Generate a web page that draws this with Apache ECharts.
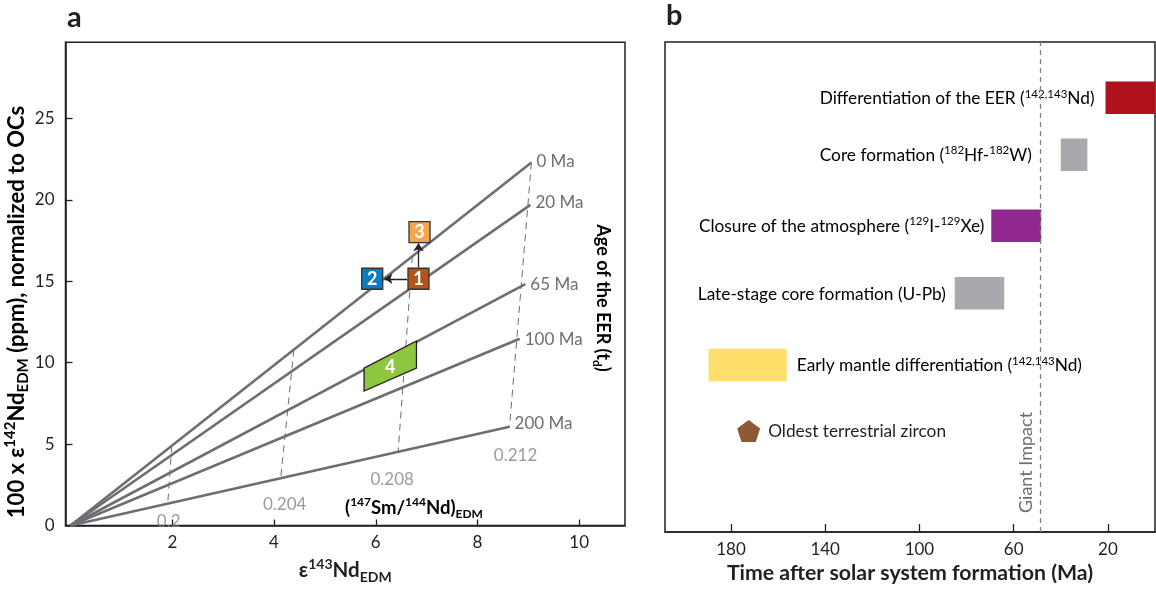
<!DOCTYPE html>
<html><head><meta charset="utf-8">
<script src="https://cdn.jsdelivr.net/npm/echarts@6/dist/echarts.min.js"></script>
<style>html,body{margin:0;padding:0;background:#fff}#c{width:1156px;height:589px}</style>
</head><body><div id="c"></div>
<script>
// ---------- Panel a data ----------
const ageLabels = ['0 Ma', '20 Ma', '65 Ma', '100 Ma', '200 Ma'];
const ageEndX = [9.06, 9.04, 8.94, 8.83, 8.63];
const ageEndY = [22.29, 19.69, 14.82, 11.47, 6.06];
const ratioLabels = ['0.2', '0.204', '0.208', '0.212'];
const ratioTopX = [1.99, 4.39, 6.72, 9.06];
const ratioTopY = [4.90, 10.80, 16.55, 22.29];
const ratioBotX = [1.91, 4.13, 6.44, 8.63];
const ratioBotY = [1.34, 2.90, 4.52, 6.06];
const boxLabels = ['1', '2', '3'];
const boxX = [6.84, 5.93, 6.86];
const boxY = [15.15, 15.15, 18.02];
const arrowFrom = [[6.62, 15.15], [6.84, 15.85]];
const arrowTo = [[6.17, 15.15], [6.84, 17.33]];
const field4X = [5.77, 6.80, 6.80, 5.77];
const field4Y = [9.66, 11.33, 9.66, 8.26];
const xTicksA = [2, 4, 6, 8, 10];
const yTicksA = [0, 5, 10, 15, 20, 25];
// ---------- Panel b data ----------
const eventNames = [
  '{n|Differentiation of the EER (}{s|142,143}{n|Nd)}',
  '{n|Core formation (}{s|182}{n|Hf-}{s|182}{n|W)}',
  '{n|Closure of the atmosphere (}{s|129}{n|I-}{s|129}{n|Xe)}',
  '{n|Late-stage core formation (U-Pb)}',
  '{n|Early mantle differentiation (}{s|142,143}{n|Nd)}'
];
const eventFrom = [21, 40, 69.5, 85, 189.5];
const eventTo = [0, 28.7, 48.3, 64, 156.3];
const zirconAge = 172.5;
const giantImpact = 48.7;
const xTicksB = [180, 140, 100, 60, 20];

// ---------- styles / layout ----------
const FONT = 'Lato';
const DARK = '#231f20';
const LINE = '#6d6e71';
const LGRAY = '#808285';
const rowPos = [8.86, 7.70, 6.25, 4.87, 3.41, 2.06];   // vertical slots of panel b rows
const eventColors = ['#b0121b', '#a7a9ac', '#92278f', '#a7a9ac', '#ffde6a'];
const labelSide = ['left', 'left', 'left', 'left', 'right'];
const labelGap = [11, 29, 7, 9, 10];
const boxColors = ['#b4541a', '#0a7cc2', '#f6a54a'];
const ratioOffsets = [[1, 18], [4, 26], [-6, 28], [6, 29]];
const ageOffsets = [[0, -1], [0, -2], [0, 0], [0, 1], [0, -3]];

const richA = {
  n: {fontFamily: FONT, fontSize: 17.3, color: DARK, lineHeight: 22},
  s: {fontFamily: FONT, fontSize: 11.5, color: DARK, lineHeight: 12, verticalAlign: 'top'}
};
function boldRich(size, color) {
  return {
    b: {fontFamily: FONT, fontWeight: 'bold', fontSize: size, color: color, lineHeight: size + 6},
    s: {fontFamily: FONT, fontWeight: 'bold', fontSize: Math.round(size * 0.66), color: color, lineHeight: 12, verticalAlign: 'top'},
    d: {fontFamily: FONT, fontWeight: 'bold', fontSize: Math.round(size * 0.66), color: color, lineHeight: 12, verticalAlign: 'bottom'}
  };
}

const series = [];
// isochrons
ageLabels.forEach((lab, i) => {
  series.push({
    type: 'line', xAxisIndex: 0, yAxisIndex: 0, name: lab,
    data: [[0, 0], [ageEndX[i], ageEndY[i]]],
    symbol: 'none', lineStyle: {color: LINE, width: 2.6}, z: 3, silent: true,
    endLabel: {show: true, formatter: lab, color: LINE, fontFamily: FONT, fontSize: 17,
      distance: 5, offset: ageOffsets[i]}
  });
});
// Sm/Nd dashed lines
ratioLabels.forEach((lab, i) => {
  series.push({
    type: 'line', xAxisIndex: 0, yAxisIndex: 0,
    data: [[ratioTopX[i], ratioTopY[i]], [ratioBotX[i], ratioBotY[i]]],
    symbol: 'none', lineStyle: {color: LINE, width: 1, type: [7, 5]}, z: 2, silent: true
  });
});
series.push({
  type: 'scatter', xAxisIndex: 0, yAxisIndex: 0, symbolSize: 1, silent: true, z: 8,
  itemStyle: {color: 'rgba(0,0,0,0)'},
  data: ratioLabels.map((lab, i) => ({value: [ratioBotX[i], ratioBotY[i]],
    label: {show: true, formatter: lab, position: 'inside', offset: ratioOffsets[i],
      color: LGRAY, fontFamily: FONT, fontSize: 17}}))
});
// field 4
series.push({
  type: 'custom', xAxisIndex: 0, yAxisIndex: 0, z: 5, silent: true,
  data: [[field4X[0], field4Y[0]]],
  renderItem: (params, api) => {
    const pts = field4X.map((x, k) => api.coord([x, field4Y[k]]));
    const cx = pts.reduce((a, p) => a + p[0], 0) / 4, cy = pts.reduce((a, p) => a + p[1], 0) / 4;
    return {type: 'group', children: [
      {type: 'polygon', shape: {points: pts}, style: {fill: '#8dc63f', stroke: DARK, lineWidth: 1.3}},
      {type: 'text', style: {text: '4', x: cx, y: cy, align: 'center', verticalAlign: 'middle',
        fill: '#fff', font: 'bold 18px ' + FONT}}
    ]};
  }
});
// arrows
series.push({
  type: 'lines', coordinateSystem: 'cartesian2d', xAxisIndex: 0, yAxisIndex: 0, z: 6, silent: true,
  symbol: ['none', 'arrow'], symbolSize: 8,
  lineStyle: {color: DARK, width: 1.3, opacity: 1},
  data: arrowFrom.map((f, i) => ({coords: [f, arrowTo[i]]}))
});
// boxes
series.push({
  type: 'scatter', xAxisIndex: 0, yAxisIndex: 0, symbol: 'rect', symbolSize: 21, z: 7, silent: true,
  data: boxLabels.map((lab, i) => ({value: [boxX[i], boxY[i]],
    itemStyle: {color: boxColors[i], borderColor: '#333', borderWidth: 1.3, opacity: 1}})),
  label: {show: true, position: 'inside', formatter: p => boxLabels[p.dataIndex],
    color: '#fff', fontFamily: FONT, fontWeight: 'bold', fontSize: 18}
});
// panel b bars
series.push({
  type: 'custom', xAxisIndex: 1, yAxisIndex: 1, clip: true, silent: true,
  data: eventNames.map((n, i) => [eventFrom[i], eventTo[i], rowPos[i]]),
  renderItem: (params, api) => {
    const i = params.dataIndex;
    const p0 = api.coord([api.value(0), api.value(2)]);
    const p1 = api.coord([api.value(1), api.value(2)]);
    const h = 32.5;
    const x0 = Math.min(p0[0], p1[0]), x1 = Math.max(p0[0], p1[0]);
    const left = labelSide[i] === 'left';
    return {type: 'group', children: [
      {type: 'rect', shape: {x: x0, y: p0[1] - h / 2, width: x1 - x0, height: h}, style: {fill: eventColors[i]}},
      {type: 'text', style: {text: eventNames[i], rich: richA,
        x: left ? x0 - labelGap[i] : x1 + labelGap[i], y: p0[1] + 1,
        align: left ? 'right' : 'left', verticalAlign: 'middle'}}
    ]};
  }
});
// zircon
series.push({
  type: 'scatter', xAxisIndex: 1, yAxisIndex: 1, silent: true,
  symbol: 'path://M50,0 L100,36 L81,95 L19,95 L0,36 Z', symbolSize: [23, 22],
  itemStyle: {color: '#8b5a35', opacity: 1},
  data: [[zirconAge, rowPos[5]]],
  label: {show: true, position: 'right', distance: 8, formatter: 'Oldest terrestrial zircon',
    color: DARK, fontFamily: FONT, fontSize: 17.3},
  markLine: {
    silent: true, symbol: 'none',
    lineStyle: {color: LGRAY, type: [5, 4], width: 1.3},
    label: {show: true, formatter: 'Giant Impact', position: 'insideStartTop',
      color: LINE, fontFamily: FONT, fontSize: 18, distance: [19, 5]},
    data: [{xAxis: giantImpact}]
  }
});

const axisTxt = {color: DARK, fontFamily: FONT, fontSize: 17};
const option = {
  animation: false,
  backgroundColor: '#fff',
  grid: [
    {left: 65.5, top: 42.3, width: 559.5, height: 493.4, show: true, borderColor: DARK, borderWidth: 1.5},
    {left: 665, top: 42, width: 490, height: 494, show: true, borderColor: DARK, borderWidth: 1.5}
  ],
  xAxis: [
    {type: 'value', gridIndex: 0, min: -0.1, max: 10.9,
      axisLine: {onZero: false, lineStyle: {color: DARK, width: 1.5}},
      axisTick: {inside: true, length: 6, customValues: xTicksA, lineStyle: {color: DARK, width: 1.3}},
      axisLabel: Object.assign({customValues: xTicksA, margin: 9}, axisTxt),
      splitLine: {show: false},
      name: '{b|ε}{s|143}{b|Nd}{d|EDM}', nameLocation: 'middle', nameGap: 32,
      nameTextStyle: {rich: boldRich(20.5, DARK)}},
    {type: 'value', gridIndex: 1, min: 0, max: 208, inverse: true,
      axisLine: {onZero: false, lineStyle: {color: DARK, width: 1.5}},
      axisTick: {inside: true, length: 8, customValues: xTicksB, lineStyle: {color: DARK, width: 1.3}},
      axisLabel: Object.assign({customValues: xTicksB, margin: 9}, axisTxt),
      splitLine: {show: false},
      name: 'Time after solar system formation (Ma)', nameLocation: 'middle', nameGap: 31,
      nameTextStyle: {color: DARK, fontFamily: FONT, fontWeight: 'bold', fontSize: 21.3}}
  ],
  yAxis: [
    {type: 'value', gridIndex: 0, min: 0, max: 29.67,
      axisLine: {onZero: false, lineStyle: {color: DARK, width: 1.5}},
      axisTick: {inside: true, length: 7, customValues: yTicksA, lineStyle: {color: DARK, width: 1.3}},
      axisLabel: Object.assign({customValues: yTicksA, margin: 11}, axisTxt),
      splitLine: {show: false}},
    {type: 'value', gridIndex: 1, min: 0, max: 10, show: false}
  ],
  graphic: [
    {type: 'text', left: 67, top: 3, style: {text: 'a', font: 'bold 29px ' + FONT, fill: DARK}},
    {type: 'text', left: 666, top: 1, style: {text: 'b', font: 'bold 29px ' + FONT, fill: DARK}},
    {type: 'text', x: 17, y: 312, rotation: Math.PI / 2,
      style: {text: '{b|100 x ε}{s|142}{b|Nd}{d|EDM}{b| (ppm), normalized to OCs}', rich: boldRich(22, DARK),
        align: 'center', verticalAlign: 'middle'}},
    {type: 'text', x: 603, y: 298, rotation: -Math.PI / 2,
      style: {text: '{b|Age of the EER (t}{d|d}{b|)}', rich: boldRich(18, LINE),
        align: 'center', verticalAlign: 'middle'}},
    {type: 'text', x: 414, y: 508,
      style: {text: '{b|(}{s|147}{b|Sm/}{s|144}{b|Nd)}{d|EDM}', rich: boldRich(18.5, LGRAY),
        align: 'center', verticalAlign: 'middle'}}
  ],
  series: series
};
const chart = echarts.init(document.getElementById('c'), null, {renderer: 'canvas'});
chart.setOption(option);
</script>
</body></html>
